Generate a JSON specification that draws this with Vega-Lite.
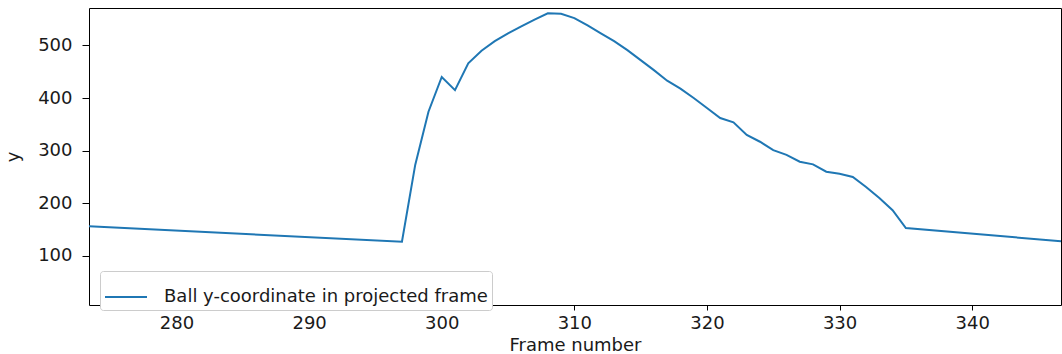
{
  "$schema": "https://vega.github.io/schema/vega-lite/v6.json",
  "autosize": {"type": "none"},
  "padding": {"left": 89, "top": 8, "right": 1, "bottom": 49},
  "width": 972,
  "height": 297,
  "background": "white",
  "config": {
    "font": "DejaVu Sans",
    "view": {"stroke": "black", "strokeWidth": 1},
    "axis": {
      "grid": false,
      "domain": false,
      "tickColor": "black",
      "labelColor": "#1a1a1a",
      "titleColor": "#1a1a1a",
      "labelFont": "DejaVu Sans",
      "titleFont": "DejaVu Sans",
      "labelFontSize": 18,
      "titleFontSize": 18,
      "titleFontWeight": "normal"
    }
  },
  "data": {
    "values": [
      {"frame": 273.4, "y": 156.5},
      {"frame": 297, "y": 127},
      {"frame": 298, "y": 273},
      {"frame": 299, "y": 374},
      {"frame": 300, "y": 440},
      {"frame": 301, "y": 415},
      {"frame": 302, "y": 466},
      {"frame": 303, "y": 490},
      {"frame": 304, "y": 508},
      {"frame": 305, "y": 523},
      {"frame": 306, "y": 536},
      {"frame": 307, "y": 549},
      {"frame": 308, "y": 561},
      {"frame": 309, "y": 560},
      {"frame": 310, "y": 552},
      {"frame": 311, "y": 538},
      {"frame": 312, "y": 523},
      {"frame": 313, "y": 508},
      {"frame": 314, "y": 491},
      {"frame": 315, "y": 472},
      {"frame": 316, "y": 453},
      {"frame": 317, "y": 433},
      {"frame": 318, "y": 418},
      {"frame": 319, "y": 400},
      {"frame": 320, "y": 381},
      {"frame": 321, "y": 362},
      {"frame": 322, "y": 354},
      {"frame": 323, "y": 330},
      {"frame": 324, "y": 317},
      {"frame": 325, "y": 301},
      {"frame": 326, "y": 292},
      {"frame": 327, "y": 279},
      {"frame": 328, "y": 274},
      {"frame": 329, "y": 260},
      {"frame": 330, "y": 256},
      {"frame": 331, "y": 250},
      {"frame": 332, "y": 231},
      {"frame": 333, "y": 210},
      {"frame": 334, "y": 187},
      {"frame": 335, "y": 153},
      {"frame": 346.7, "y": 128}
    ]
  },
  "mark": {"type": "line", "strokeWidth": 2, "clip": true},
  "encoding": {
    "x": {
      "field": "frame",
      "type": "quantitative",
      "title": "Frame number",
      "scale": {"domain": [273.4, 346.7], "nice": false, "zero": false},
      "axis": {"values": [280, 290, 300, 310, 320, 330, 340], "tickSize": 5, "labelPadding": 4, "titlePadding": 4, "labelFlush": false}
    },
    "y": {
      "field": "y",
      "type": "quantitative",
      "title": "y",
      "scale": {"domain": [6.8, 571.1], "nice": false, "zero": false},
      "axis": {"values": [100, 200, 300, 400, 500], "tickSize": 7, "labelPadding": 10, "titlePadding": 15, "labelFlush": false}
    },
    "color": {
      "datum": "Ball y-coordinate in projected frame",
      "type": "nominal",
      "scale": {"range": ["#1f77b4"]},
      "legend": {
        "title": null,
        "orient": "none",
        "legendX": 11,
        "legendY": 263,
        "symbolType": "stroke",
        "symbolSize": 1764,
        "symbolStrokeWidth": 2,
        "labelFontSize": 18,
        "labelFont": "DejaVu Sans",
        "labelColor": "#1a1a1a",
        "labelOffset": 16,
        "labelLimit": 600,
        "padding": 4,
        "strokeColor": "#cccccc",
        "fillColor": "white",
        "cornerRadius": 3
      }
    }
  }
}
